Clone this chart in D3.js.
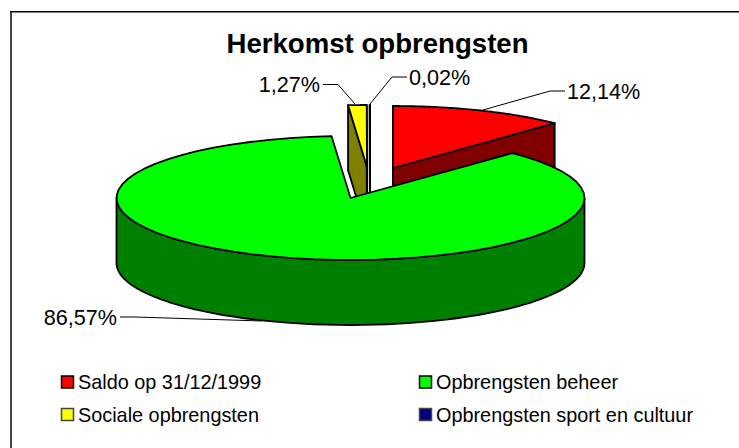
<!DOCTYPE html>
<html><head><meta charset="utf-8">
<script src="https://cdn.jsdelivr.net/npm/d3@7"></script>
<style>html,body{margin:0;padding:0;background:#fff}svg{display:block}text{font-family:"Liberation Sans",Arial,sans-serif;fill:#000}</style>
</head><body><svg id="c" width="739" height="448"></svg>
<script>
const categories = ["Saldo op 31/12/1999","Opbrengsten beheer","Sociale opbrengsten","Opbrengsten sport en cultuur"];
const shares = [12.14,86.57,1.27,0.02];
const shareLabels = ["12,14%","86,57%","1,27%","0,02%"];
const topColors = ["#ff0000","#00ff00","#ffff00","#000080"];
const sideColors = ["#800000","#008000","#808000","#000040"];
const centers = [[393,168],[350.5,198],[367,167],[370,167]];
const rx=234, ry=62, depth=65;
const svg=d3.select("#c");
svg.append("line").attr("x1",11).attr("x2",11).attr("y1",11).attr("y2",448).attr("stroke","#444").attr("stroke-width",2);
svg.append("line").attr("x1",10).attr("x2",739).attr("y1",11.75).attr("y2",11.75).attr("stroke","#000").attr("stroke-width",1.5);
svg.append("text").attr("x",377.5).attr("y",52.7).attr("text-anchor","middle").attr("font-weight","bold").attr("font-size",27.6).text("Herkomst opbrengsten");
const arcs=d3.pie().sort(null).value(d=>d)(shares);
const pt=(i,a,dz=0)=>[centers[i][0]+rx*Math.sin(a),centers[i][1]-ry*Math.cos(a)+dz];
const line=d3.line();
const rim=(i,a0,a1,dz=0)=>d3.range(0,61).map(k=>pt(i,a0+(a1-a0)*k/60,dz));
const style=(s,f)=>s.attr("fill",f).attr("stroke","#000").attr("stroke-width",1.8).attr("stroke-linejoin","round");
[0,2,3,1].forEach(i=>{
  const a=arcs[i],c=centers[i],g=svg.append("g");
  const lo=a.startAngle,hi=a.endAngle;
  if(i!==1){
    [lo,hi].forEach(e=>{const p=pt(i,e);
      style(g.append("path").attr("d",line([c,p,[p[0],p[1]+depth],[c[0],c[1]+depth]])+"Z"),sideColors[i]);});
  }
  const f0=Math.max(lo,Math.PI/2),f1=Math.min(hi,Math.PI*1.5);
  if(f1>f0){
    style(g.append("path").attr("d",line(rim(i,f0,f1).concat(rim(i,f1,f0,depth)))+"Z"),sideColors[i]);
  }
  style(g.append("path").attr("d",line([c].concat(rim(i,lo,hi)))+"Z"),topColors[i]);
});
const lead=[[[483,110],[550,91],[565,91]],[[262,321],[135,317],[120,317]],[[355,104],[338,84.5],[323,84.5]],[[370,104],[392,77],[407,77]]];
lead.forEach(l=>svg.append("path").attr("d",line(l)).attr("fill","none").attr("stroke","#000").attr("stroke-width",1));
const labelPos=[[567,99,"start"],[117,325,"end"],[320,92,"end"],[409,85,"start"]];
shareLabels.forEach((t,i)=>svg.append("text").attr("x",labelPos[i][0]).attr("y",labelPos[i][1]).attr("text-anchor",labelPos[i][2]).attr("font-size",21.6).text(t));
const legendPos=[[61,382],[419,382],[61,414.5],[419,414.5]];
categories.forEach((t,i)=>{const [x,y]=legendPos[i];
  svg.append("rect").attr("x",x+.5).attr("y",y-6).attr("width",12).attr("height",12).attr("fill",topColors[i]).attr("stroke",i>1?"#444":"#000").attr("stroke-width",1.5);
  svg.append("text").attr("x",x+17).attr("y",y+7).attr("font-size",19.85).text(t);
});
</script></body></html>
